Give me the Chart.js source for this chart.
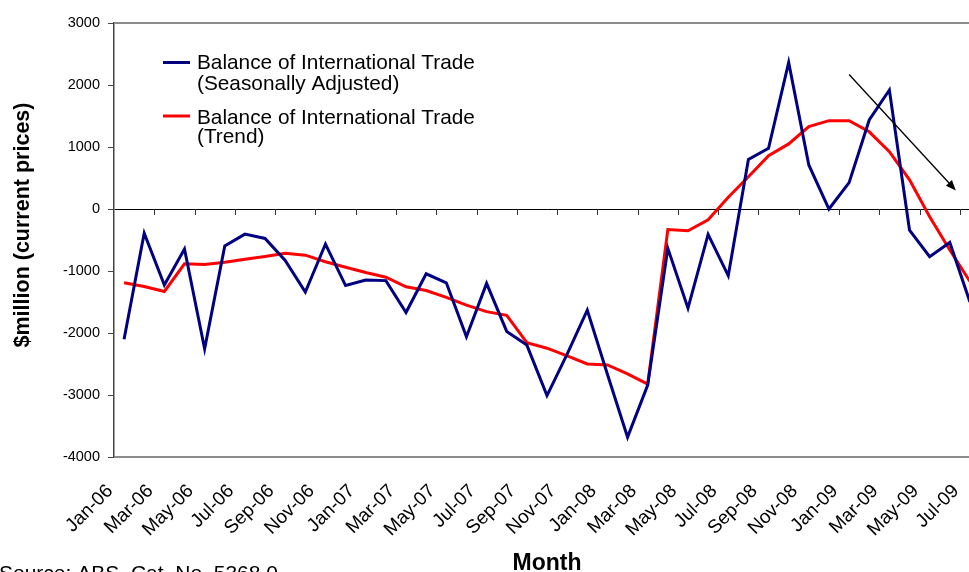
<!DOCTYPE html>
<html lang="en">
<head>
<meta charset="UTF-8">
<title>Balance of International Trade</title>
<script src="https://cdn.jsdelivr.net/npm/chart.js@4.4.1/dist/chart.umd.min.js"></script>
<style>
  body {
    margin: 0;
    padding: 0;
    background-color: #ffffff;
    overflow: hidden;
  }
  .wrap {
    width: 969px;
    height: 572px;
    overflow: hidden; /* plot runs a little past the right edge, like the original */
  }
</style>
</head>
<body>

<div class="wrap">
  <canvas id="tradeChart" width="990" height="572"></canvas>
</div>

<script>
const months = [
  'Jan-06', 'Feb-06', 'Mar-06', 'Apr-06', 'May-06', 'Jun-06', 'Jul-06', 'Aug-06', 'Sep-06', 'Oct-06', 'Nov-06', 'Dec-06',
  'Jan-07', 'Feb-07', 'Mar-07', 'Apr-07', 'May-07', 'Jun-07', 'Jul-07', 'Aug-07', 'Sep-07', 'Oct-07', 'Nov-07', 'Dec-07',
  'Jan-08', 'Feb-08', 'Mar-08', 'Apr-08', 'May-08', 'Jun-08', 'Jul-08', 'Aug-08', 'Sep-08', 'Oct-08', 'Nov-08', 'Dec-08',
  'Jan-09', 'Feb-09', 'Mar-09', 'Apr-09', 'May-09', 'Jun-09', 'Jul-09'
];

// $million
const seasonallyAdjusted = [
  -2100, -390, -1225, -645, -2255, -595, -405, -475, -830, -1340, -565, -1235,
  -1145, -1155, -1670, -1045, -1190, -2060, -1200, -1975, -2195, -3010, -2340, -1630,
  -2665, -3680, -2840, -635, -1600, -410, -1075, 800, 980, 2365, 710, 0,
  425, 1435, 1920, -340, -770, -540, -1500
];

const trend = [
  -1190, -1250, -1330, -885, -895, -860, -810, -765, -715, -745, -850, -940,
  -1025, -1100, -1255, -1315, -1425, -1550, -1655, -1715, -2155, -2245, -2370, -2500,
  -2515, -2660, -2825, -330, -350, -175, 190, 520, 860, 1050, 1330, 1425,
  1425, 1245, 925, 470, -125, -660, -1170
];

const yMin = -4000;
const yMax = 3000;
const yStep = 1000;

// arrow annotation, [month index, value]
const arrowFrom = [36, 2170];
const arrowTo = [41.3, 300];

const FONT = '"Liberation Sans", Arial, sans-serif';

// pixel for a (possibly fractional) month index
function xAt(scale, idx) {
  const i0 = Math.floor(idx);
  const i1 = Math.min(i0 + 1, months.length - 1);
  const p0 = scale.getPixelForValue(i0);
  const p1 = scale.getPixelForValue(i1);
  return p0 + (p1 - p0) * (idx - i0);
}

const decorations = {
  id: 'decorations',
  beforeDatasetsDraw(chart) {
    const { ctx, chartArea: a, scales: { x, y } } = chart;
    ctx.save();

    // grey plot frame
    ctx.strokeStyle = '#8c8c8c';
    ctx.lineWidth = 2;
    ctx.beginPath();
    ctx.moveTo(a.left, a.top);
    ctx.lineTo(a.right, a.top);
    ctx.lineTo(a.right, a.bottom);
    ctx.lineTo(a.left, a.bottom);
    ctx.stroke();

    // tick marks on the zero line, every two months
    const y0 = y.getPixelForValue(0);
    ctx.strokeStyle = '#333333';
    ctx.lineWidth = 1;
    ctx.beginPath();
    for (let i = 2; i < months.length; i += 2) {
      const bx = Math.round((x.getPixelForValue(i - 1) + x.getPixelForValue(i)) / 2) + 0.5;
      ctx.moveTo(bx, y0);
      ctx.lineTo(bx, y0 + 6);
    }
    ctx.stroke();
    ctx.restore();
  },
  afterDraw(chart) {
    const { ctx, scales: { x, y } } = chart;
    ctx.save();

    // arrow
    const ax1 = xAt(x, arrowFrom[0]), ay1 = y.getPixelForValue(arrowFrom[1]);
    const ax2 = xAt(x, arrowTo[0]), ay2 = y.getPixelForValue(arrowTo[1]);
    const ang = Math.atan2(ay2 - ay1, ax2 - ax1);
    ctx.strokeStyle = '#000000';
    ctx.fillStyle = '#000000';
    ctx.lineWidth = 1.3;
    ctx.beginPath();
    ctx.moveTo(ax1, ay1);
    ctx.lineTo(ax2 - 8 * Math.cos(ang), ay2 - 8 * Math.sin(ang));
    ctx.stroke();
    ctx.beginPath();
    ctx.moveTo(ax2, ay2);
    ctx.lineTo(ax2 - 11 * Math.cos(ang - 0.38), ay2 - 11 * Math.sin(ang - 0.38));
    ctx.lineTo(ax2 - 11 * Math.cos(ang + 0.38), ay2 - 11 * Math.sin(ang + 0.38));
    ctx.closePath();
    ctx.fill();

    // legend
    ctx.lineWidth = 3;
    ctx.strokeStyle = '#000080';
    ctx.beginPath();
    ctx.moveTo(163, 62.5);
    ctx.lineTo(190, 62.5);
    ctx.stroke();
    ctx.strokeStyle = '#ff0000';
    ctx.beginPath();
    ctx.moveTo(163, 116);
    ctx.lineTo(190, 116);
    ctx.stroke();

    ctx.fillStyle = '#000000';
    ctx.font = '20.8px ' + FONT;
    ctx.textAlign = 'left';
    ctx.textBaseline = 'alphabetic';
    ctx.fillText('Balance of International Trade', 197, 69);
    ctx.fillText('(Seasonally Adjusted)', 197, 90);
    ctx.fillText('Balance of International Trade', 197, 123.5);
    ctx.fillText('(Trend)', 197, 143);

    // y axis title
    ctx.save();
    ctx.translate(23, 225);
    ctx.rotate(-Math.PI / 2);
    ctx.font = 'bold 21.5px ' + FONT;
    ctx.textAlign = 'center';
    ctx.textBaseline = 'middle';
    ctx.fillText('$million (current prices)', 0, 0);
    ctx.restore();

    // source note, cut by the bottom edge as in the original
    ctx.font = '21px ' + FONT;
    ctx.textAlign = 'left';
    ctx.fillText('Source: ABS, Cat. No. 5368.0', -1, 580);

    ctx.restore();
  }
};

new Chart(document.getElementById('tradeChart').getContext('2d'), {
  type: 'line',
  data: {
    labels: months,
    datasets: [
      {
        label: 'Balance of International Trade (Seasonally Adjusted)',
        data: seasonallyAdjusted,
        borderColor: '#000080',
        borderWidth: 3,
        pointRadius: 0,
        tension: 0,
        fill: false
      },
      {
        label: 'Balance of International Trade (Trend)',
        data: trend,
        borderColor: '#ff0000',
        borderWidth: 3,
        pointRadius: 0,
        tension: 0,
        fill: false
      }
    ]
  },
  options: {
    responsive: false,
    animation: false,
    layout: { padding: { top: 23, right: 10, bottom: 0, left: 0 } },
    plugins: {
      legend: { display: false },
      tooltip: { enabled: false }
    },
    scales: {
      x: {
        offset: true,
        grid: { display: false, drawTicks: false },
        border: { display: false },
        ticks: {
          autoSkip: false,
          maxRotation: 45,
          minRotation: 45,
          padding: 23,
          labelOffset: -14,
          color: '#000000',
          font: { family: FONT, size: 19 },
          callback: (val, i) => (i % 2 === 0 ? months[i] : '')
        },
        title: {
          display: true,
          text: 'Month',
          color: '#000000',
          font: { family: FONT, size: 23, weight: 'bold', lineHeight: 1 },
          padding: { top: 0, bottom: -3 }
        },
        afterFit: (scale) => {
          scale.height = 115;
          scale.paddingLeft = 0;
          scale.paddingRight = 0;
        }
      },
      y: {
        min: yMin,
        max: yMax,
        grid: {
          drawOnChartArea: true,
          color: (c) => (c.tick && c.tick.value === 0 ? '#000000' : 'rgba(0,0,0,0)'),
          tickColor: '#444444',
          tickLength: 6,
          lineWidth: 1
        },
        border: { display: true, color: '#444444', width: 1.5 },
        ticks: {
          stepSize: yStep,
          padding: 8,
          color: '#000000',
          font: { family: FONT, size: 14.5 },
          callback: (v) => String(v)
        },
        afterFit: (scale) => { scale.width = 114; }
      }
    }
  },
  plugins: [decorations]
});
</script>

</body>
</html>
